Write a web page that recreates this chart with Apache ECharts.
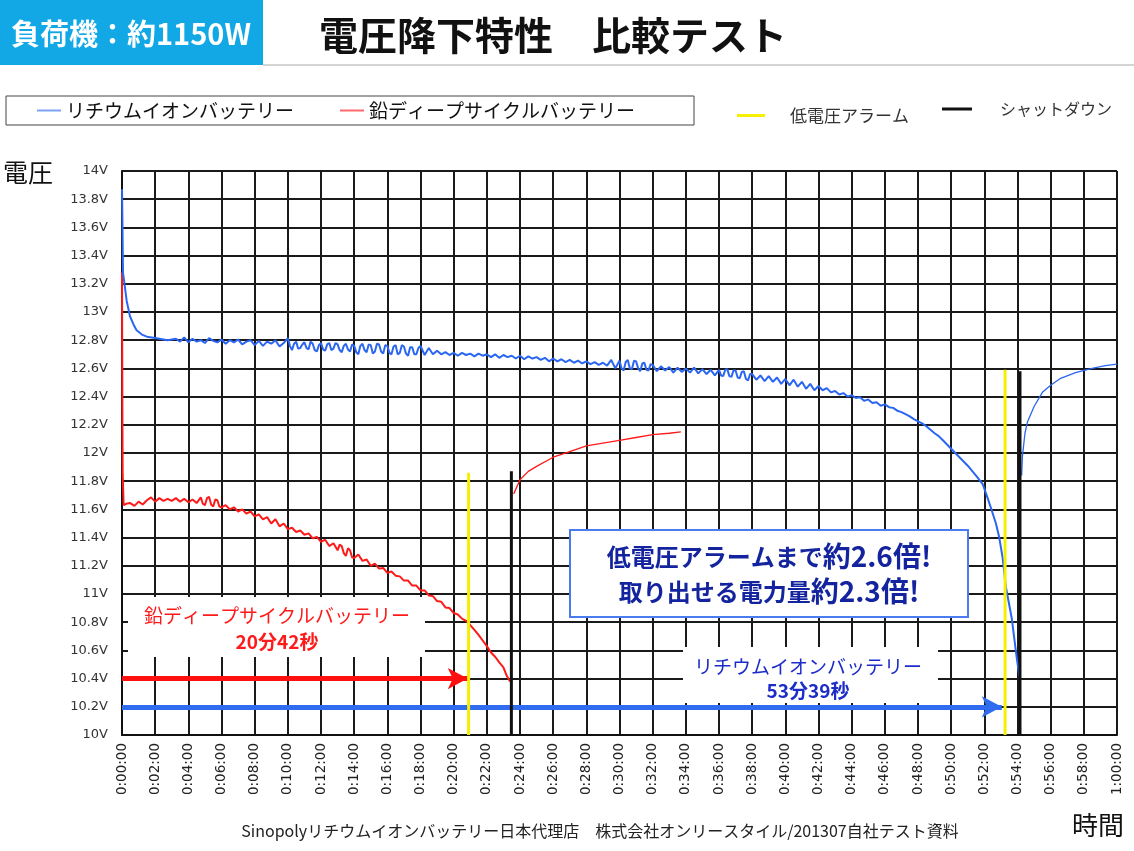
<!DOCTYPE html>
<html>
<head>
<meta charset="utf-8">
<script src="https://cdn.jsdelivr.net/npm/echarts@6/dist/echarts.min.js"></script>
<style>
html,body{margin:0;padding:0;background:#fff;}
#main{width:1134px;height:851px;}
</style>
</head>
<body>
<div id="main"></div>
<script>
// リチウムイオンバッテリー [経過時間(分), 電圧(V)]
var liData = [
  [0,13.87],[0.03,13.6],[0.06,13.28],[0.15,13.2],[0.28,13.08],[0.48,12.97],[0.7,12.91],[0.88,12.87],[1.2,12.84],[1.5,12.825],[2,12.815],
  [2.25,12.81],[2.5,12.805],[2.75,12.8],[3,12.805],[3.25,12.81],[3.5,12.79],[3.75,12.82],[4,12.785],
  [4.25,12.81],[4.5,12.79],[4.75,12.8],[5,12.78],[5.25,12.815],[5.5,12.795],[5.75,12.785],[6,12.805],
  [6.25,12.775],[6.5,12.8],[6.75,12.785],[7,12.805],[7.25,12.77],[7.5,12.79],[7.75,12.8],[8,12.765],
  [8.25,12.795],[8.5,12.76],[8.75,12.79],[9,12.775],[9.25,12.8],[9.5,12.755],[9.75,12.78],[10,12.815],
  [10.125,12.76],[10.25,12.73],[10.375,12.775],[10.5,12.79],[10.625,12.74],[10.75,12.745],[10.875,12.77],[11,12.785],[11.125,12.745],[11.25,12.735],[11.375,12.79],[11.5,12.775],[11.625,12.73],[11.75,12.72],[11.875,12.765],[12,12.78],
  [12.125,12.735],[12.25,12.725],[12.375,12.77],[12.5,12.78],[12.625,12.73],[12.75,12.74],[12.875,12.78],[13,12.77],[13.125,12.73],[13.25,12.715],[13.375,12.76],[13.5,12.775],[13.625,12.735],[13.75,12.72],[13.875,12.77],[14,12.76],
  [14.125,12.715],[14.25,12.7],[14.375,12.76],[14.5,12.775],[14.625,12.73],[14.75,12.715],[14.875,12.77],[15,12.765],[15.125,12.705],[15.25,12.72],[15.375,12.775],[15.5,12.77],[15.625,12.72],[15.75,12.705],[15.875,12.765],[16,12.76],
  [16.125,12.71],[16.25,12.7],[16.375,12.755],[16.5,12.765],[16.625,12.7],[16.75,12.71],[16.875,12.765],[17,12.755],[17.125,12.705],[17.25,12.69],[17.375,12.75],[17.5,12.75],[17.625,12.7],[17.75,12.7],[17.875,12.745],[18,12.76],
  [18.25,12.695],[18.5,12.745],[18.75,12.7],[19,12.725],[19.25,12.7],[19.5,12.715],[19.75,12.695],[20,12.71],
  [20.25,12.69],[20.5,12.71],[20.75,12.695],[21,12.705],[21.25,12.685],[21.5,12.705],[21.75,12.69],[22,12.7],
  [22.25,12.68],[22.5,12.7],[22.75,12.675],[23,12.695],[23.25,12.68],[23.5,12.69],[23.75,12.67],[24,12.69],
  [24.25,12.665],[24.5,12.685],[24.75,12.67],[25,12.68],[25.25,12.66],[25.5,12.675],[25.75,12.65],[26,12.67],
  [26.25,12.65],[26.5,12.665],[26.75,12.645],[27,12.66],[27.25,12.64],[27.5,12.655],[27.75,12.635],[28,12.65],
  [28.25,12.63],[28.5,12.645],[28.75,12.625],[29,12.64],[29.25,12.62],[29.5,12.66],[29.75,12.6],[30,12.655],
  [30.125,12.6],[30.25,12.585],[30.375,12.645],[30.5,12.66],[30.625,12.6],[30.75,12.595],[30.875,12.655],[31,12.65],[31.125,12.6],[31.25,12.58],[31.375,12.635],[31.5,12.64],[31.625,12.59],[31.75,12.585],[31.875,12.63],[32,12.625],
  [32.25,12.58],[32.5,12.615],[32.75,12.585],[33,12.61],[33.25,12.57],[33.5,12.605],[33.75,12.575],[34,12.6],
  [34.25,12.57],[34.5,12.605],[34.75,12.565],[35,12.595],[35.25,12.56],[35.5,12.59],[35.75,12.55],[36,12.59],
  [36.125,12.55],[36.25,12.545],[36.375,12.59],[36.5,12.595],[36.625,12.545],[36.75,12.54],[36.875,12.585],[37,12.585],[37.125,12.535],[37.25,12.53],[37.375,12.575],[37.5,12.58],[37.625,12.525],[37.75,12.515],[37.875,12.56],[38,12.56],
  [38.25,12.52],[38.5,12.55],[38.75,12.51],[39,12.545],[39.25,12.505],[39.5,12.535],[39.75,12.49],[40,12.525],
  [40.25,12.48],[40.5,12.52],[40.75,12.47],[41,12.505],[41.25,12.455],[41.5,12.49],[41.75,12.445],[42,12.475],
  [42.25,12.445],[42.5,12.46],[42.75,12.43],[43,12.44],[43.25,12.415],[43.5,12.425],[43.75,12.4],[44,12.41],
  [44.25,12.39],[44.5,12.395],[44.75,12.37],[45,12.38],[45.25,12.355],[45.5,12.36],[45.75,12.335],[46,12.345],
  [46.25,12.325],[46.5,12.32],[46.75,12.3],[47,12.29],[47.25,12.275],[47.5,12.26],[47.75,12.24],[48,12.225],
  [48.25,12.21],[48.5,12.19],[48.75,12.165],[49,12.14],[49.25,12.12],[49.5,12.09],[49.75,12.06],[50,12.03],
  [50.5,11.97],[51,11.91],[51.5,11.84],[51.9,11.78],[52.2,11.68],[52.4,11.61],[52.7,11.5],[52.9,11.4],[53.1,11.26],
  [53.3,11.05],[53.65,10.83],[53.95,10.55],[54.12,10.41]
];
// リチウムイオンバッテリー シャットダウン後の回復
var liRecover = [
  [54.25,11.84],[54.3,11.98],[54.45,12.14],[54.6,12.22],[55,12.33],[55.5,12.43],[56,12.48],[56.6,12.53],[57.5,12.57],[58.5,12.6],[59.3,12.62],[60,12.63]
];

// 鉛ディープサイクルバッテリー [経過時間(分), 電圧(V)]
var leadData = [
  [0,13.28],[0.02,12.4],[0.04,11.85],[0.1,11.63],[0.25,11.64],
  [0.5,11.645],[0.75,11.625],[1,11.655],[1.25,11.635],[1.5,11.665],[1.75,11.685],[2,11.655],
  [2.25,11.68],[2.5,11.66],[2.75,11.675],[3,11.66],[3.25,11.68],[3.5,11.655],[3.75,11.675],[4,11.65],
  [4.25,11.67],[4.5,11.645],[4.75,11.685],[4.875,11.64],[5,11.63],[5.125,11.68],[5.25,11.69],[5.375,11.635],[5.5,11.62],[5.625,11.67],[5.75,11.665],[5.875,11.62],[6,11.615],
  [6.25,11.63],[6.5,11.6],[6.75,11.615],[7,11.585],[7.25,11.6],[7.5,11.57],[7.75,11.585],[8,11.55],
  [8.25,11.565],[8.5,11.53],[8.75,11.545],[9,11.5],[9.25,11.53],[9.5,11.48],[9.75,11.5],[10,11.46],
  [10.25,11.47],[10.5,11.44],[10.75,11.45],[11,11.42],[11.25,11.43],[11.5,11.395],[11.75,11.405],[12,11.37],
  [12.25,11.385],[12.5,11.34],[12.75,11.36],[13,11.31],[13.125,11.35],[13.25,11.34],[13.375,11.29],[13.5,11.27],[13.625,11.325],[13.75,11.31],[13.875,11.26],[14,11.255],
  [14.25,11.28],[14.5,11.235],[14.75,11.245],[15,11.2],[15.25,11.215],[15.5,11.18],[15.75,11.185],[16,11.15],
  [16.25,11.16],[16.5,11.13],[16.75,11.125],[17,11.095],[17.25,11.095],[17.5,11.06],[17.75,11.06],[18,11.025],
  [18.25,11.025],[18.5,10.99],[18.75,10.985],[19,10.95],[19.25,10.945],[19.5,10.905],[19.75,10.9],[20,10.865],
  [20.25,10.855],[20.5,10.825],[20.75,10.81],[21,10.78],[21.25,10.745],[21.5,10.71],[21.75,10.67],[22,10.63],
  [22.25,10.585],[22.5,10.555],[22.75,10.515],[23,10.48],[23.2,10.42],[23.4,10.38]
];
// 鉛ディープサイクルバッテリー シャットダウン後の回復
var leadRecover = [
  [23.62,11.71],[24,11.81],[24.5,11.87],[25,11.905],[26,11.97],[27,12.01],[28,12.05],[29,12.07],[30,12.09],[31,12.11],[32,12.13],[33,12.14],[33.7,12.15]
];

// 低電圧アラーム / シャットダウン（縦線）
var alarmLead = [[20.9,10],[20.9,11.86]];
var alarmLi = [[53.25,10],[53.25,12.59]];
var shutLead = [[23.48,10],[23.48,11.87]];
var shutLi = [[54.15,10],[54.15,12.58]];

// 矢印（放電時間）
var leadArrow = [[0,10.4],[20.85,10.4]];
var liArrow = [[0,10.2],[53.05,10.2]];

var chart = echarts.init(document.getElementById('main'));

function fmtTime(v){
  var m = Math.round(v);
  if (m >= 60) return '1:00:00';
  return '0:' + (m < 10 ? '0' : '') + m + ':00';
}

var jp = '"Noto Sans CJK JP", sans-serif';
var liColor = '#2b66f2';
var leadColor = '#ff1a1a';

function txt(x, y, s, font, fill, align){
  return {type: 'text', x: x, y: y, z: 11, style: {
    text: s, fill: fill, font: font,
    align: align || 'center', verticalAlign: 'middle',
    textAlign: align || 'center', textVerticalAlign: 'middle'
  }};
}

var option = {
  animation: false,
  textStyle: {fontFamily: jp},
  title: {
    text: '電圧降下特性　比較テスト',
    left: 314, top: 11,
    textStyle: {fontSize: 39, fontWeight: 'bold', color: '#111', fontFamily: jp}
  },
  legend: [
    {
      data: ['リチウムイオンバッテリー', '鉛ディープサイクルバッテリー'],
      left: 6, top: 96,
      padding: [5, 59, 5, 31],
      itemGap: 46, itemWidth: 24, itemHeight: 2, icon: 'rect',
      borderColor: '#444', borderWidth: 1,
      selectedMode: false,
      textStyle: {fontSize: 19, color: '#111', fontFamily: jp}
    },
    {
      data: ['低電圧アラーム'],
      left: 732, top: 102,
      itemWidth: 28, itemHeight: 3, icon: 'rect',
      selectedMode: false,
      textStyle: {fontSize: 17, color: '#333', fontFamily: jp, padding: [0, 0, 0, 20]}
    },
    {
      data: ['シャットダウン'],
      left: 937, top: 96,
      itemWidth: 30, itemHeight: 3, icon: 'rect',
      selectedMode: false,
      textStyle: {fontSize: 16, color: '#333', fontFamily: jp, padding: [0, 0, 0, 23]}
    }
  ],
  grid: {left: 122, right: 17, top: 171, bottom: 116},
  xAxis: {
    type: 'value', min: 0, max: 60, interval: 2,
    axisLine: {show: true, lineStyle: {color: '#111', width: 2}},
    axisTick: {show: false},
    axisLabel: {rotate: 90, fontFamily: 'DejaVu Sans', fontSize: 13.5, color: '#222', margin: 8, formatter: fmtTime},
    splitLine: {show: true, lineStyle: {color: '#1a1a1a', width: 2}}
  },
  yAxis: {
    type: 'value', min: 10, max: 14, interval: 0.2,
    axisLine: {show: true, lineStyle: {color: '#111', width: 2}},
    axisTick: {show: false},
    axisLabel: {
      fontFamily: 'DejaVu Sans', fontSize: 13, color: '#333', margin: 14,
      formatter: function(v){ return parseFloat(v.toFixed(1)) + 'V'; }
    },
    splitLine: {show: true, lineStyle: {color: '#1a1a1a', width: 2}}
  },
  series: [
    {
      name: '鉛ディープサイクルバッテリー', type: 'line', data: leadData,
      symbol: 'none', z: 3, silent: true,
      lineStyle: {color: leadColor, width: 2},
      itemStyle: {color: '#ff6a6a'},
      markLine: {
        silent: true, symbol: ['none', 'arrow'], symbolSize: [16, 20],
        label: {show: false},
        lineStyle: {color: '#ff1010', width: 5, type: 'solid'},
        data: [[{coord: leadArrow[0]}, {coord: leadArrow[1]}]]
      }
    },
    {
      name: '鉛ディープサイクルバッテリー', type: 'line', data: leadRecover,
      symbol: 'none', z: 3, silent: true,
      lineStyle: {color: leadColor, width: 1.3},
      itemStyle: {color: '#ff6a6a'}
    },
    {
      name: 'リチウムイオンバッテリー', type: 'line', data: liData,
      symbol: 'none', z: 4, silent: true,
      lineStyle: {color: liColor, width: 2},
      itemStyle: {color: '#7fa3f4'},
      markLine: {
        silent: true, symbol: ['none', 'arrow'], symbolSize: [16, 20],
        label: {show: false},
        lineStyle: {color: '#2f6cf0', width: 5, type: 'solid'},
        data: [[{coord: liArrow[0]}, {coord: liArrow[1]}]]
      }
    },
    {
      name: 'リチウムイオンバッテリー', type: 'line', data: liRecover,
      symbol: 'none', z: 4, silent: true,
      lineStyle: {color: liColor, width: 1.3},
      itemStyle: {color: '#7fa3f4'}
    },
    {name: '低電圧アラーム', type: 'line', data: alarmLead, symbol: 'none', z: 6, silent: true,
      lineStyle: {color: '#f5ef00', width: 3}, itemStyle: {color: '#f5ef00'}},
    {name: '低電圧アラーム', type: 'line', data: alarmLi, symbol: 'none', z: 6, silent: true,
      lineStyle: {color: '#f5ef00', width: 3}, itemStyle: {color: '#f5ef00'}},
    {name: 'シャットダウン', type: 'line', data: shutLead, symbol: 'none', z: 6, silent: true,
      lineStyle: {color: '#111', width: 3}, itemStyle: {color: '#111'}},
    {name: 'シャットダウン', type: 'line', data: shutLi, symbol: 'none', z: 6, silent: true,
      lineStyle: {color: '#111', width: 3}, itemStyle: {color: '#111'}}
  ],
  graphic: [
    {type: 'rect', left: 0, top: 0, z: 10, shape: {width: 263, height: 65}, style: {fill: '#12a8e6'}},
    txt(131, 34, '負荷機：約1150W', 'bold 29px ' + jp, '#fff'),
    {type: 'line', z: 10, shape: {x1: 263, y1: 65, x2: 1134, y2: 65}, style: {stroke: '#d4d4d4', lineWidth: 2}},
    txt(3, 172, '電圧', '25px ' + jp, '#111', 'left'),
    txt(1098, 825, '時間', '26px ' + jp, '#111'),
    txt(600, 831, 'Sinopolyリチウムイオンバッテリー日本代理店　株式会社オンリースタイル/201307自社テスト資料', '16px ' + jp, '#222'),
    // 鉛ラベル
    {type: 'rect', z: 10, shape: {x: 128, y: 597, width: 297, height: 60}, style: {fill: '#fff'}},
    txt(277, 616, '鉛ディープサイクルバッテリー', '19px ' + jp, leadColor),
    txt(277, 642, '20分42秒', 'bold 19px ' + jp, leadColor),
    // リチウムラベル
    {type: 'rect', z: 10, shape: {x: 683, y: 647, width: 255, height: 56}, style: {fill: '#fff'}},
    txt(808, 667, 'リチウムイオンバッテリー', '19px ' + jp, '#1c2cc8'),
    txt(808, 691, '53分39秒', 'bold 19px ' + jp, '#1c2cc8'),
    // 比較コメント
    {type: 'rect', z: 10, shape: {x: 570, y: 530, width: 398, height: 87}, style: {fill: '#fff', stroke: '#4a7cf0', lineWidth: 2}},
    {type: 'text', x: 769, y: 574, z: 11, style: {
      text: '{a|低電圧アラームまで}{b|約2.6倍!}\n{a|取り出せる電力量}{b|約2.3倍!}',
      align: 'center', verticalAlign: 'middle', textAlign: 'center', textVerticalAlign: 'middle',
      rich: {
        a: {fontSize: 24, fontWeight: 'bold', fontFamily: jp, fill: '#14249e', lineHeight: 35},
        b: {fontSize: 28, fontWeight: 'bold', fontFamily: jp, fill: '#14249e', lineHeight: 35}
      }
    }}
  ]
};

chart.setOption(option);
</script>
</body>
</html>
